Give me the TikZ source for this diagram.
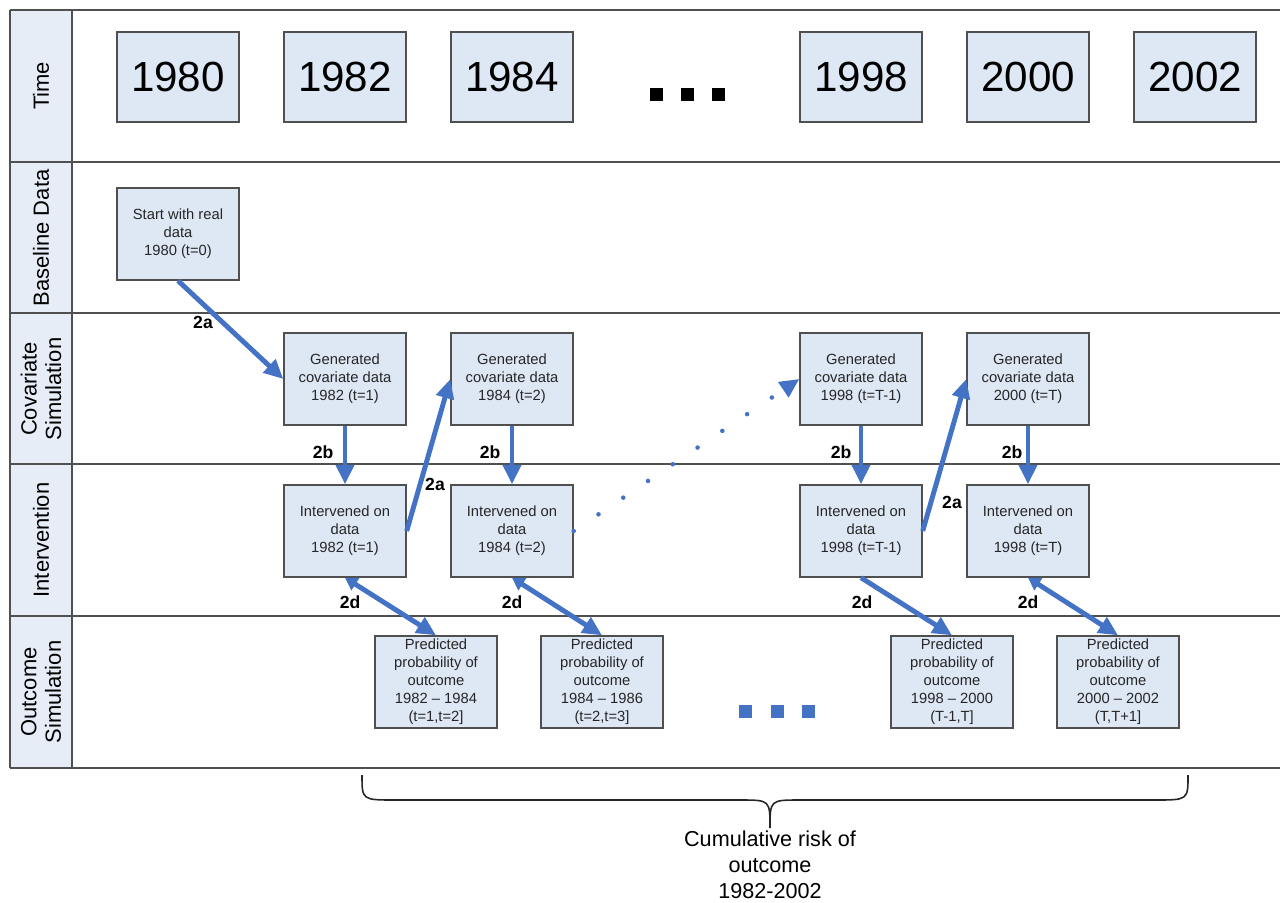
\documentclass[tikz,border=0pt]{standalone}
\usepackage{fontspec}
\setmainfont{Liberation Sans}
\usetikzlibrary{arrows.meta}
\usetikzlibrary{calc}

\definecolor{boxblue}{HTML}{DEE8F5}
\definecolor{lanefill}{HTML}{E6EDF7}
\definecolor{arrowblue}{HTML}{4472C4}
\definecolor{framegray}{HTML}{505050}

\begin{document}
\begin{tikzpicture}[x=0.02cm, y=-0.02cm,
>={Triangle[length=11pt,width=10pt]},
yearbox/.style={draw=framegray, line width=.8pt, fill=boxblue, minimum width=2.44cm, minimum height=1.8cm, inner sep=0, font=\fontsize{24}{28}\selectfont},
databox/.style={draw=framegray, line width=.8pt, fill=boxblue, minimum width=2.44cm, minimum height=1.84cm, inner sep=0, align=center, text=black!85, font=\fontsize{8.4}{10.2}\selectfont},
lane/.style={rotate=90, align=center, font=\fontsize{12.5}{14}\selectfont},
flow/.style={->, draw=arrowblue, line width=2.8pt},
twoway/.style={flow, {Triangle[length=7pt,width=8pt]}-{Triangle[length=11pt,width=10pt]}},
dotflow/.style={draw=arrowblue, line width=2.6pt, line cap=round, dash pattern=on 0pt off 17pt, -{Triangle[length=11pt,width=10pt]}},
tag/.style={font=\fontsize{10}{12}\selectfont\bfseries},
ellips/.style={inner sep=0, minimum size=.26cm}]
\useasboundingbox (0,0) rectangle (1280,902);
%%%%%%%%%% LANES %%%%%%%%%%%
\fill[lanefill] (10,10) rectangle (72,768);
\foreach \y in {10,162,313,464,616,768}
  \draw[framegray, line width=.8pt] (10,\y) -- (1280,\y);
\draw[framegray, line width=.8pt] (10,10) -- (10,768);
\draw[framegray, line width=.8pt] (72,10) -- (72,768);
\node[lane] (ltime) at (41,86) {Time};
\node[lane] (lbase) at (41,238) {Baseline Data};
\node[lane] (lcov) at (41,389) {Covariate\\Simulation};
\node[lane] (lint) at (41,540) {Intervention};
\node[lane] (lout) at (41,692) {Outcome\\Simulation};
%%%%%%%%%% TIME %%%%%%%%%%%
\foreach \yr/\x in {1980/178,1982/345,1984/512,1998/861,2000/1028,2002/1195}
  \node[yearbox] (y\yr) at (\x,77) {\yr};
\foreach \x [count=\i] in {656,687,718}
  \node[ellips, fill=black] (tdot\i) at (\x,95) {};
%%%%%%%%%% BOXES %%%%%%%%%%%
\node[databox] (base) at (178,234) {Start with real\\data\\1980 (t=0)};
\node[databox] (cov82) at (345,379) {Generated\\covariate data\\1982 (t=1)};
\node[databox] (cov84) at (512,379) {Generated\\covariate data\\1984 (t=2)};
\node[databox] (cov98) at (861,379) {Generated\\covariate data\\1998 (t=T-1)};
\node[databox] (cov00) at (1028,379) {Generated\\covariate data\\2000 (t=T)};
\node[databox] (int82) at (345,531) {Intervened on\\data\\1982 (t=1)};
\node[databox] (int84) at (512,531) {Intervened on\\data\\1984 (t=2)};
\node[databox] (int98) at (861,531) {Intervened on\\data\\1998 (t=T-1)};
\node[databox] (int00) at (1028,531) {Intervened on\\data\\1998 (t=T)};
\node[databox] (out82) at (436,682) {Predicted\\probability of\\outcome\\1982 -- 1984\\(t=1,t=2]};
\node[databox] (out84) at (602,682) {Predicted\\probability of\\outcome\\1984 -- 1986\\(t=2,t=3]};
\node[databox] (out98) at (952,682) {Predicted\\probability of\\outcome\\1998 -- 2000\\(T-1,T]};
\node[databox] (out00) at (1118,682) {Predicted\\probability of\\outcome\\2000 -- 2002\\(T,T+1]};
\foreach \x [count=\i] in {745,777,808}
  \node[ellips, fill=arrowblue] (odot\i) at (\x,711) {};
%%%%%%%%%% ARROWS %%%%%%%%%%%
\draw[flow] (base.south) -- (cov82.west);
\draw[flow] (cov82) -- (int82);
\draw[flow] (cov84) -- (int84);
\draw[flow] (cov98) -- (int98);
\draw[flow] (cov00) -- (int00);
\draw[flow] (int82.east) -- (cov84.west);
\draw[dotflow] (int84.east) -- (cov98.west);
\draw[flow] (int98.east) -- (cov00.west);
\draw[twoway] (int82.south) -- (out82.north);
\draw[twoway] (int84.south) -- (out84.north);
\draw[flow] (int98.south) -- (out98.north);
\draw[twoway] (int00.south) -- (out00.north);
\node[tag] (a1) at (203,322) {2a};
\node[tag] (a2) at (435,484) {2a};
\node[tag] (a3) at (952,502) {2a};
\node[tag] (b1) at (323,452) {2b};
\node[tag] (b2) at (490,452) {2b};
\node[tag] (b3) at (841,452) {2b};
\node[tag] (b4) at (1012,452) {2b};
\node[tag] (d1) at (350,602) {2d};
\node[tag] (d2) at (512,602) {2d};
\node[tag] (d3) at (862,602) {2d};
\node[tag] (d4) at (1028,602) {2d};
%%%%%%%%%% BRACE %%%%%%%%%%%
\coordinate (bl) at (362,775);
\coordinate (br) at (1188,775);
\coordinate (tip) at (770,828);
\draw[black!85, line width=.9pt] (bl) .. controls (362,800) .. (395,800) -- (740,800)
  .. controls (770,800) .. (tip) .. controls (770,800) .. (800,800) -- (1155,800)
  .. controls (1188,800) .. (br);
\node[align=center, font=\fontsize{12.3}{14.7}\selectfont] (risk) at (770,865) {Cumulative risk of\\outcome\\1982-2002};
\end{tikzpicture}
\end{document}
